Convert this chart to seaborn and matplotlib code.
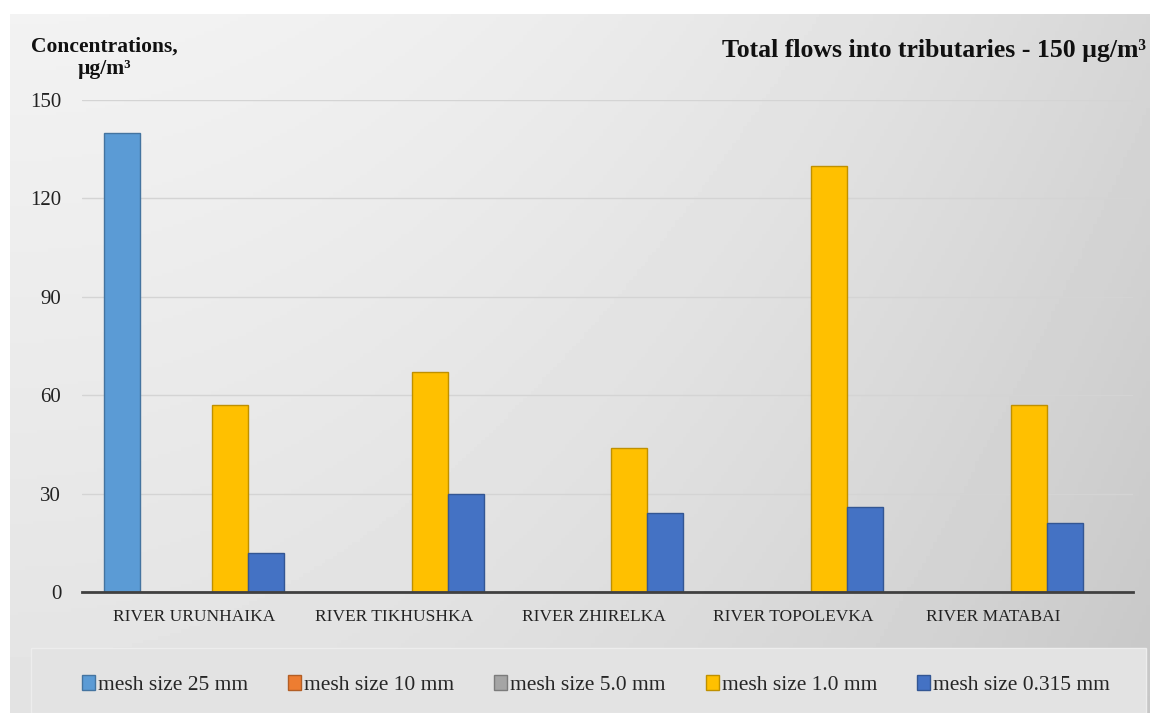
import numpy as np
import pandas as pd
import matplotlib
matplotlib.use("Agg")
import matplotlib.pyplot as plt
import matplotlib.colors as mcolors
from matplotlib.patches import Rectangle
import seaborn as sns

rivers = ["RIVER URUNHAIKA", "RIVER TIKHUSHKA", "RIVER ZHIRELKA", "RIVER TOPOLEVKA", "RIVER MATABAI"]
series_names = ["mesh size 25 mm", "mesh size 10 mm", "mesh size 5.0 mm", "mesh size 1.0 mm", "mesh size 0.315 mm"]
mesh_25 = [140, 0, 0, 0, 0]
mesh_10 = [0, 0, 0, 0, 0]
mesh_5 = [0, 0, 0, 0, 0]
mesh_1 = [57, 67, 44, 130, 57]
mesh_0315 = [12, 30, 24, 26, 21]
colors = ["#5B9BD5", "#ED7D31", "#A5A5A5", "#FFC000", "#4472C4"]
y_ticks = [0, 30, 60, 90, 120, 150]

values = [mesh_25, mesh_10, mesh_5, mesh_1, mesh_0315]
rows = []
for name, vals in zip(series_names, values):
    for r, v in zip(rivers, vals):
        rows.append({"river": r, "mesh": name, "value": v})
df = pd.DataFrame(rows)

sns.set_theme(style="white")
plt.rcParams["font.family"] = ["Liberation Serif", "DejaVu Serif"]

fig = plt.figure(figsize=(11.55, 7.13), dpi=100)
fig.patch.set_facecolor("white")

# background gradient panel
bg = fig.add_axes([10 / 1155, 0, 1140 / 1155, 1 - 14 / 713])
bg.set_axis_off()
xx = np.linspace(0, 1, 300)
yy = np.linspace(0, 1, 200)
X, Y = np.meshgrid(xx, yy)
shade = 0.95 - 0.11 * X ** 2.0 - 0.06 * Y
bg.imshow(shade, cmap="gray", vmin=0, vmax=1, aspect="auto", extent=[0, 1, 0, 1], origin="upper")

# legend panel
fig.patches.append(Rectangle((31 / 1155, 0), 1115 / 1155, 65 / 713, transform=fig.transFigure,
                             facecolor="#E3E3E3", edgecolor="#EDEDED", linewidth=1.0, zorder=0.5))

ax = fig.add_axes([82 / 1155, 1 - 592 / 713, 1051 / 1155, 492 / 713])
ax.patch.set_alpha(0)

sns.barplot(data=df, x="river", y="value", hue="mesh", hue_order=series_names,
            palette=colors, width=0.9, ax=ax, legend=True, saturation=1)

for p in ax.patches:
    fc = np.array(mcolors.to_rgb(p.get_facecolor()))
    p.set_edgecolor(tuple(fc * 0.75))
    p.set_linewidth(1.0)

ax.set_ylim(0, 150)
ax.set_xlim(-0.56, 4.7)
ax.set_yticks(y_ticks)
ax.set_yticklabels([str(t) for t in y_ticks], fontsize=15, color="#222222")
ax.tick_params(axis="y", length=0, pad=15)
ax.tick_params(axis="x", length=0, pad=12, labelsize=12.5, labelcolor="#222222")
ax.set_xlabel("")
ax.set_ylabel("")
ax.yaxis.grid(True, color="#D4D4D4", linewidth=1.0)
ax.set_axisbelow(True)
for s in ["left", "right", "top"]:
    ax.spines[s].set_visible(False)
ax.spines["bottom"].set_color("#404040")
ax.spines["bottom"].set_linewidth(2)

handles, labels = ax.get_legend_handles_labels()
ax.get_legend().remove()
leg = fig.legend(handles, labels, loc="center", bbox_to_anchor=(596 / 1155, 1 - 685 / 713),
                 ncol=5, frameon=False, fontsize=15.5, handlelength=0.6, handleheight=0.7,
                 handletextpad=0.15, columnspacing=1.85)

fig.text(104 / 1155, 1 - 37 / 713, "Concentrations,\nµg/m³", fontsize=15.5, fontweight="bold",
         ha="center", va="top", color="#111111", linespacing=1.15, multialignment="center")
fig.text(1146 / 1155, 1 - 50 / 713, "Total flows into tributaries - 150 µg/m³", fontsize=18.5,
         fontweight="bold", ha="right", va="center", color="#111111")

fig.savefig("out.png", dpi=100)
